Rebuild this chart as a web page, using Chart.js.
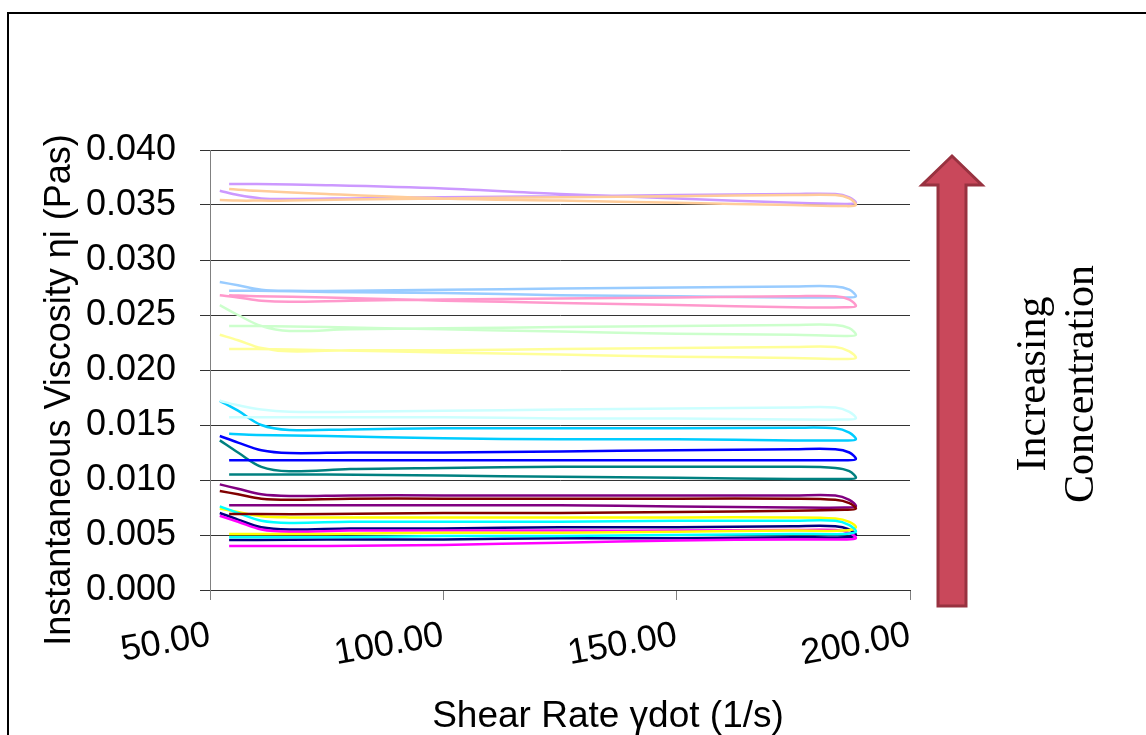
<!DOCTYPE html>
<html>
<head>
<meta charset="utf-8">
<script src="https://cdn.jsdelivr.net/npm/chart.js@4/dist/chart.umd.min.js"></script>
<style>
  html, body { margin: 0; padding: 0; background: #fff; overflow: hidden; }
  #frame { position: absolute; left: 7px; top: 12px; width: 1300px; height: 900px; border: 2px solid #000; }
  #wrap { position: absolute; left: 0; top: 0; width: 1146px; height: 735px; }
</style>
</head>
<body>
<div id="frame"></div>
<div id="wrap"><canvas id="myChart"></canvas></div>
<script>
// shear rate steps: up-sweep then down-sweep (1/s)
const upRate = [52.1, 56, 61, 67, 80, 100, 125, 150, 175, 184, 187, 188.4];
const downRate = [186, 175, 150, 125, 100, 75, 60, 54.1];

// instantaneous viscosity (Pas), up-sweep values then down-sweep values
const visc01 = [0.0070, 0.0064, 0.0057, 0.0055, 0.0056, 0.0056, 0.0057, 0.0057, 0.0058, 0.0058, 0.0055, 0.0050,  0.0048, 0.0048, 0.0047, 0.0047, 0.0046, 0.0046, 0.00455, 0.00455];
const visc02 = [0.00675, 0.0062, 0.0055, 0.0053, 0.0054, 0.0054, 0.0054, 0.0054, 0.00545, 0.00545, 0.0052, 0.0047,  0.0046, 0.0046, 0.0045, 0.0043, 0.0041, 0.0040, 0.0040, 0.0040];
const visc03 = [0.0074, 0.0071, 0.0067, 0.0066, 0.0066, 0.0066, 0.0066, 0.0066, 0.0066, 0.0065, 0.0062, 0.0057,  0.0054, 0.0054, 0.0053, 0.0052, 0.0052, 0.0051, 0.0051, 0.0051];
const visc04 = [0.0076, 0.0070, 0.0063, 0.0061, 0.0062, 0.0062, 0.0062, 0.0063, 0.0063, 0.0063, 0.0059, 0.0053,  0.0051, 0.0051, 0.0050, 0.0049, 0.0049, 0.0048, 0.0048, 0.0048];
const visc05 = [0.0096, 0.0092, 0.0087, 0.00855, 0.0086, 0.0086, 0.0086, 0.0086, 0.0086, 0.0086, 0.0082, 0.0076,  0.0075, 0.0075, 0.0076, 0.0077, 0.0077, 0.0077, 0.0077, 0.0077];
const visc06 = [0.0090, 0.0087, 0.0083, 0.0082, 0.0083, 0.0083, 0.0083, 0.0083, 0.0083, 0.0082, 0.0079, 0.0074,  0.0073, 0.0072, 0.0071, 0.0070, 0.0070, 0.0069, 0.0069, 0.0069];
const visc07 = [0.0136, 0.0125, 0.0112, 0.0108, 0.0110, 0.0111, 0.0112, 0.0112, 0.0112, 0.0111, 0.0108, 0.0102,  0.0101, 0.0101, 0.0102, 0.0103, 0.0104, 0.0105, 0.0105, 0.0105];
const visc08 = [0.0140, 0.0134, 0.0127, 0.01245, 0.0125, 0.0125, 0.0126, 0.0127, 0.0128, 0.0128, 0.0125, 0.0119,  0.0118, 0.0118, 0.0118, 0.0118, 0.0118, 0.0118, 0.0118, 0.0118];
const visc09 = [0.0172, 0.0163, 0.0150, 0.01455, 0.0146, 0.0147, 0.0147, 0.0147, 0.01475, 0.0147, 0.0143, 0.0137,  0.0136, 0.0136, 0.0137, 0.0137, 0.0138, 0.0140, 0.0141, 0.0142];
const visc10 = [0.0172, 0.0168, 0.0164, 0.0162, 0.0162, 0.0163, 0.0164, 0.0165, 0.0166, 0.0166, 0.0162, 0.0156,  0.0155, 0.0155, 0.0156, 0.0156, 0.0157, 0.0157, 0.0157, 0.0157];
const visc11 = [0.0259, 0.0250, 0.0240, 0.02355, 0.0237, 0.0238, 0.0239, 0.0240, 0.0241, 0.0241, 0.0238, 0.0232,  0.0231, 0.0232, 0.0233, 0.0235, 0.0237, 0.0239, 0.0240, 0.0240];
const visc12 = [0.0232, 0.0227, 0.0220, 0.0217, 0.0218, 0.0218, 0.0219, 0.0220, 0.0221, 0.0221, 0.0217, 0.0211,  0.0210, 0.0211, 0.0212, 0.0214, 0.0216, 0.0218, 0.0219, 0.0219];
const visc13 = [0.0280, 0.0277, 0.0273, 0.0272, 0.0272, 0.0273, 0.0274, 0.0275, 0.0276, 0.0276, 0.0273, 0.0267,  0.0266, 0.0266, 0.0267, 0.0268, 0.0270, 0.0271, 0.0272, 0.0272];
const visc14 = [0.0268, 0.0266, 0.0263, 0.0262, 0.0263, 0.0264, 0.0265, 0.0266, 0.0267, 0.0267, 0.0264, 0.0258,  0.0257, 0.0257, 0.0259, 0.0261, 0.0263, 0.0266, 0.0267, 0.0268];
const visc15 = [0.0363, 0.0359, 0.0356, 0.03555, 0.0356, 0.0357, 0.0358, 0.0359, 0.0360, 0.0360, 0.0357, 0.0352,  0.0351, 0.0352, 0.0356, 0.0360, 0.0365, 0.0368, 0.0369, 0.0369];
const visc16 = [0.03545, 0.0354, 0.0354, 0.0354, 0.0355, 0.0356, 0.0357, 0.0358, 0.0359, 0.0359, 0.0356, 0.0350,  0.0349, 0.0350, 0.0352, 0.0354, 0.0356, 0.0360, 0.0363, 0.03645];

const seriesVisc = [visc01, visc02, visc03, visc04, visc05, visc06, visc07, visc08,
                    visc09, visc10, visc11, visc12, visc13, visc14, visc15, visc16];
const seriesColors = ['#000080', '#FF00FF', '#FFFF00', '#00FFFF', '#800080', '#800000', '#008080', '#0000FF',
                      '#00CCFF', '#CCFFFF', '#CCFFCC', '#FFFF99', '#99CCFF', '#FF99CC', '#CC99FF', '#FFCC99'];
const xTicks = [50, 100, 150, 200];

const xTitle = 'Shear Rate \u03B3dot (1/s)';
const yTitle = 'Instantaneous Viscosity \u03B7i (Pas)';
const noteLines = ['Increasing', 'Concentration'];

const allRate = upRate.concat(downRate);
const datasets = seriesVisc.map(function (v, i) {
    return {
        label: 'Series ' + (i + 1),
        data: v.map(function (y, j) { return { x: allRate[j], y: y }; }),
        borderColor: seriesColors[i],
        backgroundColor: seriesColors[i],
        borderWidth: 2.5,
        pointRadius: 0,
        showLine: true,
        tension: 0.35,
        fill: false,
        order: seriesVisc.length - i
    };
});

const sansFont = "'Liberation Sans', Arial, sans-serif";

// titles, arrow and note drawn on top of the chart
const overlay = {
    id: 'overlay',
    afterDraw(chart) {
        const ctx = chart.ctx;
        ctx.save();
        ctx.fillStyle = '#000';
        ctx.font = '37px ' + sansFont;
        ctx.textAlign = 'center';
        ctx.textBaseline = 'alphabetic';
        ctx.fillText(xTitle, 608, 727);

        ctx.font = '36px ' + sansFont;
        ctx.save();
        ctx.translate(70, 390);
        ctx.rotate(-Math.PI / 2);
        ctx.fillText(yTitle, 0, 0);
        ctx.restore();

        // arrow
        ctx.beginPath();
        ctx.moveTo(952, 156);
        ctx.lineTo(982, 185);
        ctx.lineTo(966, 185);
        ctx.lineTo(966, 606);
        ctx.lineTo(938, 606);
        ctx.lineTo(938, 185);
        ctx.lineTo(922, 185);
        ctx.closePath();
        ctx.fillStyle = '#C9485B';
        ctx.fill();
        ctx.lineWidth = 3;
        ctx.strokeStyle = '#983240';
        ctx.lineJoin = 'miter';
        ctx.stroke();

        ctx.fillStyle = '#000';
        ctx.font = "42px 'Liberation Serif', 'Times New Roman', serif";
        ctx.save();
        ctx.translate(1045, 384);
        ctx.rotate(-Math.PI / 2);
        ctx.fillText(noteLines[0], 0, 0);
        ctx.fillText(noteLines[1], 0, 48);
        ctx.restore();
        ctx.restore();
    }
};

const ctx = document.getElementById('myChart').getContext('2d');
const myChart = new Chart(ctx, {
    type: 'scatter',
    data: { datasets: datasets },
    options: {
        responsive: true,
        maintainAspectRatio: false,
        animation: false,
        layout: { padding: { left: 0, right: 236, top: 150, bottom: 0 } },
        plugins: {
            legend: { display: false },
            tooltip: { enabled: false }
        },
        scales: {
            x: {
                type: 'linear',
                min: 50,
                max: 200,
                afterBuildTicks: function (scale) {
                    scale.ticks = xTicks.map(function (v) { return { value: v }; });
                },
                afterFit: function (scale) { scale.height = 145; },
                grid: { drawOnChartArea: false, drawTicks: true, tickLength: 10, color: '#808080' },
                border: { display: true, color: '#333' },
                ticks: {
                    color: '#000',
                    font: { family: sansFont, size: 36 },
                    minRotation: 10,
                    maxRotation: 10,
                    autoSkip: false,
                    padding: 14,
                    callback: function (v) { return Number(v).toFixed(2); }
                }
            },
            y: {
                min: 0,
                max: 0.04,
                afterFit: function (scale) { scale.width = 210; },
                grid: { color: '#333', tickLength: 10, drawTicks: true },
                border: { display: true, color: '#808080' },
                ticks: {
                    stepSize: 0.005,
                    color: '#000',
                    font: { family: sansFont, size: 36 },
                    padding: 24,
                    callback: function (v) { return Number(v).toFixed(3); }
                }
            }
        }
    },
    plugins: [overlay]
});
</script>
</body>
</html>
